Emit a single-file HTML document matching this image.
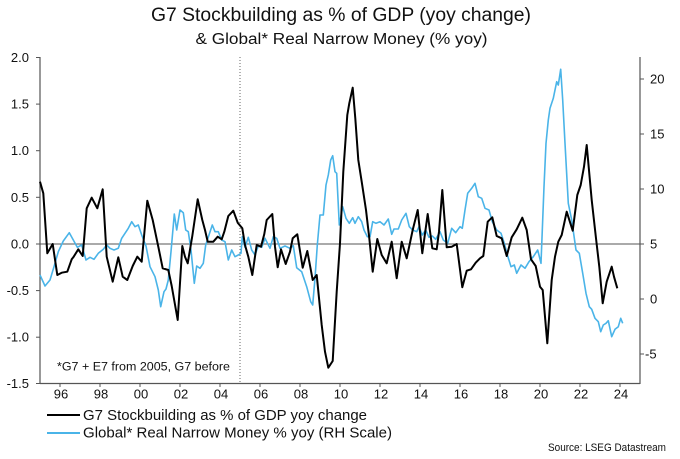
<!DOCTYPE html>
<html>
<head>
<meta charset="utf-8">
<style>
  html, body { margin:0; padding:0; background:#fff; }
  body { width:680px; height:459px; overflow:hidden; }
  svg { display:block; }
  text { font-family: "Liberation Sans", "DejaVu Sans", sans-serif; fill:#111; }
</style>
</head>
<body>
<svg width="680" height="459" viewBox="0 0 680 459" xmlns="http://www.w3.org/2000/svg">
  <rect x="0" y="0" width="680" height="459" fill="#fff"/>

  <!-- Title -->
  <text x="341" y="21" font-size="19" text-anchor="middle" textLength="380" lengthAdjust="spacingAndGlyphs">G7 Stockbuilding as % of GDP (yoy change)</text>
  <text x="341.5" y="44" font-size="15.5" text-anchor="middle" textLength="292" lengthAdjust="spacingAndGlyphs">&amp; Global* Real Narrow Money (% yoy)</text>

  <!-- Zero line -->
  <line x1="40" y1="244" x2="640" y2="244" stroke="#555" stroke-width="1"/>
  <!-- Dotted vertical at 2005 -->
  <line x1="240" y1="57" x2="240" y2="383" stroke="#666" stroke-width="1" stroke-dasharray="1,2"/>

  <!-- Axes -->
  <line x1="40" y1="57" x2="40" y2="384" stroke="#555" stroke-width="1.2"/>
  <line x1="640" y1="57" x2="640" y2="384" stroke="#555" stroke-width="1.2"/>
  <line x1="40" y1="383.5" x2="640" y2="383.5" stroke="#555" stroke-width="1.2"/>

  <!-- Left ticks & labels -->
  <g stroke="#555" stroke-width="1">
    <line x1="36" y1="57.5" x2="40" y2="57.5"/>
    <line x1="36" y1="104.1" x2="40" y2="104.1"/>
    <line x1="36" y1="150.7" x2="40" y2="150.7"/>
    <line x1="36" y1="197.3" x2="40" y2="197.3"/>
    <line x1="36" y1="244" x2="40" y2="244"/>
    <line x1="36" y1="290.6" x2="40" y2="290.6"/>
    <line x1="36" y1="337.2" x2="40" y2="337.2"/>
    <line x1="36" y1="383.5" x2="40" y2="383.5"/>
  </g>
  <g font-size="13" text-anchor="end">
    <text x="29" y="62">2.0</text>
    <text x="29" y="108.6">1.5</text>
    <text x="29" y="155.2">1.0</text>
    <text x="29" y="201.8">0.5</text>
    <text x="29" y="248.5">0.0</text>
    <text x="29" y="295.1">-0.5</text>
    <text x="29" y="341.7">-1.0</text>
    <text x="29" y="388">-1.5</text>
  </g>

  <!-- Right ticks & labels -->
  <g stroke="#555" stroke-width="1">
    <line x1="640" y1="79" x2="644" y2="79"/>
    <line x1="640" y1="134" x2="644" y2="134"/>
    <line x1="640" y1="189" x2="644" y2="189"/>
    <line x1="640" y1="244" x2="644" y2="244"/>
    <line x1="640" y1="299" x2="644" y2="299"/>
    <line x1="640" y1="354" x2="644" y2="354"/>
  </g>
  <g font-size="13" text-anchor="start">
    <text x="650" y="83.5">20</text>
    <text x="650" y="138.5">15</text>
    <text x="650" y="193.5">10</text>
    <text x="650" y="248.5">5</text>
    <text x="650" y="303.5">0</text>
    <text x="645" y="358.5">-5</text>
  </g>

  <!-- Bottom ticks & labels -->
  <g stroke="#555" stroke-width="1">
    <line x1="60" y1="383" x2="60" y2="387"/>
    <line x1="100" y1="383" x2="100" y2="387"/>
    <line x1="140" y1="383" x2="140" y2="387"/>
    <line x1="180" y1="383" x2="180" y2="387"/>
    <line x1="220" y1="383" x2="220" y2="387"/>
    <line x1="260" y1="383" x2="260" y2="387"/>
    <line x1="300" y1="383" x2="300" y2="387"/>
    <line x1="340" y1="383" x2="340" y2="387"/>
    <line x1="380" y1="383" x2="380" y2="387"/>
    <line x1="420" y1="383" x2="420" y2="387"/>
    <line x1="460" y1="383" x2="460" y2="387"/>
    <line x1="500" y1="383" x2="500" y2="387"/>
    <line x1="540" y1="383" x2="540" y2="387"/>
    <line x1="580" y1="383" x2="580" y2="387"/>
    <line x1="620" y1="383" x2="620" y2="387"/>
  </g>
  <g font-size="13" text-anchor="middle">
    <text x="61" y="398.5">96</text>
    <text x="101" y="398.5">98</text>
    <text x="141" y="398.5">00</text>
    <text x="181" y="398.5">02</text>
    <text x="221" y="398.5">04</text>
    <text x="261" y="398.5">06</text>
    <text x="301" y="398.5">08</text>
    <text x="341" y="398.5">10</text>
    <text x="381" y="398.5">12</text>
    <text x="421" y="398.5">14</text>
    <text x="461" y="398.5">16</text>
    <text x="501" y="398.5">18</text>
    <text x="541" y="398.5">20</text>
    <text x="581" y="398.5">22</text>
    <text x="621" y="398.5">24</text>
  </g>

  <!-- Annotation -->
  <text x="57" y="370.5" font-size="11.5" textLength="173" lengthAdjust="spacingAndGlyphs">*G7 + E7 from 2005, G7 before</text>

  <!-- Blue series -->
  <polyline fill="none" stroke="#4ab4e8" stroke-width="1.6" stroke-linejoin="round" points="40,275 45,286 50,280 54,266.7 58.3,251.7 63.3,241 69.3,232.7 73.3,240 77.3,247.3 81.7,245 86,260 90,257.3 94,259.3 98.3,253.3 103.3,249.3 106.7,245 110,248.3 114,250 118.3,248.3 121.7,238.3 125,233.3 128.3,228.3 131.7,221.7 135,226.7 138.3,225 141.7,235 146,246 150,266.7 155,276.7 158.3,290 160.7,306.7 164,291.7 166,289 168.3,280 171,251.7 174.3,214 176.7,230 180,210 183.3,212.7 185.7,230 188.3,231.7 191,250 194.3,283.3 196.7,266 200,268.3 203.3,263.3 205.7,245 209,235 212.3,225 215,231.7 218.3,231.7 221.7,240 225,241.7 228.3,260 231.7,250 235,256.7 238.3,255 241,253.3 242.3,236.7 245,247.3 248.3,237.3 251.7,250 255,255 258.3,246 261.7,247.3 265,238.3 270,248.3 273.3,236.7 276.7,238.3 280,248.3 285,246 290,248.3 293.3,245.7 296.7,267.7 301.7,271.7 306.7,286.7 310.7,301.7 312.7,305 315,278.3 317.3,245 320,215 323.3,215 326,185 328.3,175 330.7,160 332.7,155.7 335,171.7 336.7,173.3 339.3,225 342.7,206.7 346,218.3 349.3,223.3 352.7,217.7 355,223.3 358.3,216.7 361.7,221.7 364,230 367.3,236.7 370,236.7 372.7,221.7 376,223.3 380,221.7 384,225 388.3,219 391.7,234.3 394,229 398.3,229 401.7,220 406,213.3 409.3,226.7 412.7,230 416.7,231.7 419,226.7 422.3,235 425.7,230 429,237.3 432.3,236 435.7,239.3 440,231.7 443.3,240 447.7,243.3 451.7,228.3 455.7,232.7 460,226.7 462.3,228.3 465,210 467.7,193.3 471.7,188.3 475,183.3 478.3,196.7 481.7,198.3 485,208.3 489,210 492.3,221.7 496.7,230 501,233.3 504.3,243.3 507.7,256 511,266.7 514.3,265 516.7,273.3 521,265 525,268.3 529,261.7 533.3,256.7 537.7,250 541,263.3 544,186.7 546,143.3 548.3,120 550,108.3 553.3,98.3 556.7,81.7 558.3,85 560.7,69.3 562.7,100 565,143.3 568.3,203.3 571.7,220 576,250 579.3,253.3 582.7,273.3 586,293.3 589.3,306.7 591.7,309.3 595,318.3 598.3,321.7 600.7,331.7 603.3,325 606,323.3 608.3,320.7 611.7,336.7 615,329.3 618.3,326.7 620.7,318.3 622.7,323.3"/>

  <!-- Black series -->
  <polyline fill="none" stroke="#000" stroke-width="2" stroke-linejoin="round" points="40,181.7 43.3,193.3 47.3,253.3 52.7,244 57.3,275 61.7,272.7 67.3,271.7 71.7,259.3 73.3,257.3 78.3,249.3 82.7,256 86.7,208.3 91.7,197.7 97.3,208.3 102.7,189.3 106.7,256.7 112.7,281.7 118.3,257.3 122.7,276.7 127.3,280 132.7,266 137.3,256.7 141.7,261.7 147.3,200.7 152.7,220 158.3,246.7 162.7,268.3 168.3,270 171.7,286 177.7,320 182.3,246 185,256.7 187.7,263.3 192.3,236 197.7,199.3 202.3,220 205,230 207.7,241.7 213.3,241.7 217.7,236.7 221.7,239.3 224.3,231.7 228.3,216 233.3,210.7 237.7,222.7 242.3,228.3 245,245 248.3,256.7 252.3,275 256.7,245 261,246.7 264.3,234 266.7,220 272.3,214 275,246.7 277.7,267.3 281,249.3 285.7,264 290,251.7 292.7,238.3 297.3,234.3 302.7,267.7 307.3,251 312.7,280 316.7,275 321.7,325 325,351.7 328.3,367.7 332.7,361 336.7,291.7 340,243.3 343.3,171.7 347.3,115 349.3,103.3 352.7,87.7 355.3,118.3 358.3,160 361.7,181.7 366,210 369.3,238.3 372.7,271.7 377.3,239 381.7,255 386.7,263.3 391.7,241.7 396.7,278.3 401.7,241.7 406.7,258.3 412.7,230 417.7,210 422.3,253.3 427.7,214 432.3,248.3 436.7,249.3 439,231.7 442.3,190 446.7,247.3 451.7,246.7 456.7,244 462.3,287.3 466.7,270.7 471,269.3 475.7,262.7 480,258.3 483.3,256 487.7,221.7 492.3,217.3 496.7,236 501.7,238.3 506.7,256 511.7,237.3 516.7,229.3 522.3,217.7 526.7,230 531,259.3 535.7,266 540,286.7 542.7,290 547.3,343.3 551.7,280 555,256.7 558.3,241.7 561.7,235 566.7,211.7 572.7,230.7 577.3,195 580.7,185 584,166.7 586.7,145 591.7,200 596,238.3 599.3,266.7 602.7,303.3 606.7,281.7 611.7,266.7 614,276.7 617.3,288.3"/>

  <!-- Legend -->
  <line x1="47" y1="415" x2="80" y2="415" stroke="#000" stroke-width="2"/>
  <text x="83" y="420" font-size="15" textLength="284" lengthAdjust="spacingAndGlyphs">G7 Stockbuilding as % of GDP yoy change</text>
  <line x1="47" y1="433" x2="80" y2="433" stroke="#4ab4e8" stroke-width="2"/>
  <text x="83" y="437.5" font-size="15" textLength="309" lengthAdjust="spacingAndGlyphs">Global* Real Narrow Money % yoy (RH Scale)</text>

  <!-- Source -->
  <text x="548" y="451" font-size="11" textLength="118" lengthAdjust="spacingAndGlyphs">Source: LSEG Datastream</text>
</svg>
</body>
</html>
